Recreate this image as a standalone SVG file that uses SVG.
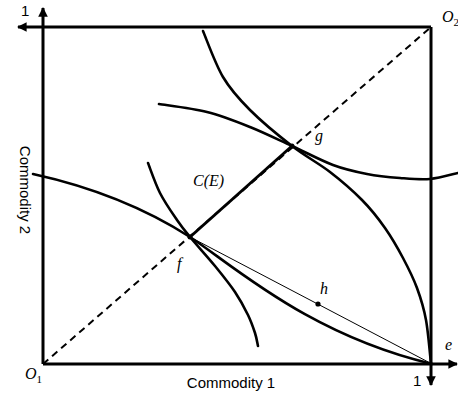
<svg xmlns="http://www.w3.org/2000/svg" width="458" height="394" viewBox="0 0 458 394">
<style>
.ax{stroke:#000;stroke-width:3;fill:none}
.cv{stroke:#000;stroke-width:2.6;fill:none;stroke-linecap:round}
.th{stroke:#000;stroke-width:1;fill:none}
.ds{stroke:#000;stroke-width:2;fill:none;stroke-dasharray:7 5}
.lb{font-family:"Liberation Serif",serif;font-style:italic;font-size:16px;fill:#000}
.sn{font-family:"Liberation Sans",Arial,sans-serif;font-size:15px;fill:#000}
</style>
<defs>
<marker id="ar" viewBox="0 0 10 10" refX="9" refY="5" markerWidth="3.2" markerHeight="3.2" orient="auto" markerUnits="strokeWidth">
<path d="M0,0 L10,5 L0,10 Z" fill="#000"/>
</marker>
</defs>
<rect width="458" height="394" fill="#fff"/>
<g id="connectors">
<line class="ds" x1="43" y1="364" x2="431" y2="27"/>
<line class="ax" x1="43" y1="364" x2="43" y2="8" marker-end="url(#ar)"/>
<line class="ax" x1="431" y1="27" x2="18" y2="27" marker-end="url(#ar)"/>
<line class="ax" x1="431" y1="27" x2="431" y2="385" marker-end="url(#ar)"/>
<line class="ax" x1="43" y1="364" x2="457" y2="364" marker-end="url(#ar)"/>
<line class="ax" x1="190" y1="237" x2="292" y2="146"/>
<line class="th" x1="190" y1="237" x2="432" y2="364"/>
<path class="cv" d="M203,31 C206.3,38.7 215.2,63.8 223,77 C230.8,90.2 238.5,98.5 250,110 C261.5,121.5 278.7,135.7 292,146 C305.3,156.3 318.3,163 330,172 C341.7,181 352.8,190.7 362,200 C371.2,209.3 378.2,218.3 385,228 C391.8,237.7 397.7,248 403,258 C408.3,268 413.2,277.7 417,288 C420.8,298.3 423.7,307.3 426,320 C428.3,332.7 430.2,356.7 431,364"/>
<path class="cv" d="M159,104 C167,105.3 191.8,108.2 207,112 C222.2,115.8 235.8,121.3 250,127 C264.2,132.7 278.2,139.7 292,146 C305.8,152.3 320.5,160.3 333,165 C345.5,169.7 355.8,171.8 367,174 C378.2,176.2 389.5,177.2 400,178 C410.5,178.8 420.3,179.8 430,179 C439.7,178.2 453.3,174 458,173"/>
<path class="cv" d="M33,174 C83,185 140,205 190,237 C235,267 310,335 432,364"/>
<path class="cv" d="M148,163 C150,168 155.2,183.5 160,193 C164.8,202.5 172,212.7 177,220 C182,227.3 183.7,229.3 190,237 C196.3,244.7 207.5,256.8 215,266 C222.5,275.2 229.5,283.8 235,292 C240.5,300.2 244.7,308.2 248,315 C251.3,321.8 253.3,327.8 255,333 C256.7,338.2 257.5,343.8 258,346"/>
</g>
<g id="node-f"><circle cx="190" cy="237" r="2.5" fill="#000"/><text class="lb" x="177" y="269">f</text></g>
<g id="node-g"><circle cx="292" cy="146" r="2.5" fill="#000"/><text class="lb" x="315" y="141">g</text></g>
<g id="node-h"><circle cx="318" cy="304" r="2.6" fill="#000"/><text class="lb" x="320" y="294">h</text></g>
<g id="node-e"><text class="lb" x="445" y="350">e</text></g>
<g id="label-CE"><text class="lb" x="193" y="186">C(E)</text></g>
<g id="node-O1"><text class="lb" x="25" y="379">O<tspan font-size="11" dy="4" font-style="normal">1</tspan></text></g>
<g id="node-O2"><text class="lb" x="442" y="22">O<tspan font-size="11" dy="4" font-style="normal">2</tspan></text></g>
<g id="labels">
<text class="sn" x="21" y="16">1</text>
<text class="sn" x="413" y="386">1</text>
<text class="sn" x="231" y="388" text-anchor="middle">Commodity 1</text>
<text class="sn" transform="translate(20,190) rotate(90)" text-anchor="middle">Commodity 2</text>
</g>
</svg>
